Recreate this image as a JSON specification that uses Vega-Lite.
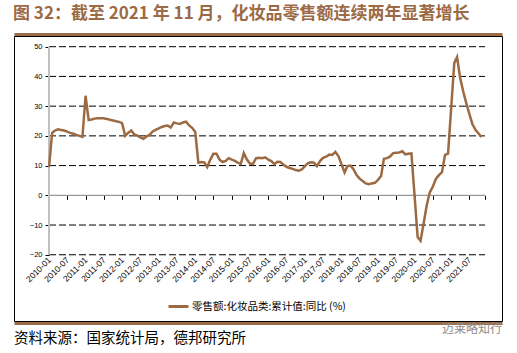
{
  "$schema": "https://vega.github.io/schema/vega-lite/v6.json",
  "width": 488,
  "height": 285,
  "autosize": {"type": "none"},
  "padding": {"left": 14, "top": 36, "right": 15, "bottom": 32},
  "background": "#ffffff",
  "config": {"view": {"stroke": "#000000", "strokeWidth": 1}},
  "resolve": {"axis": {"x": "independent", "y": "independent"}},
  "layer": [
    {
      "data": {"values": [{"v": -20}, {"v": -10}, {"v": 10}, {"v": 20}, {"v": 30}, {"v": 40}, {"v": 50}]},
      "mark": {"type": "rule", "color": "#000000", "strokeWidth": 1, "strokeDash": [7, 3]},
      "encoding": {
        "x": {"datum": {"year": 2010, "month": 1, "date": 1, "utc": true}, "type": "temporal",
              "axis": {"orient": "top", "offset": 2, "domain": true, "domainColor": "#9C6A45", "domainWidth": 3,
                       "ticks": false, "labels": false, "grid": false, "title": null},
              "scale": {"type": "utc", "domain": [{"year": 2009, "month": 1, "date": 16, "utc": true}, {"year": 2022, "month": 5, "date": 24, "utc": true}]}},
        "x2": {"datum": {"year": 2021, "month": 12, "date": 5, "utc": true}},
        "y": {"field": "v", "type": "quantitative", "axis": null,
              "scale": {"domain": [-42.29, 53.6], "nice": false, "zero": false}}
      }
    },
    {
      "data": {"values": [{}]},
      "mark": {"type": "rule", "color": "#7f7f7f", "strokeWidth": 1},
      "encoding": {
        "x": {"datum": {"year": 2010, "month": 1, "date": 1, "utc": true}, "type": "temporal",
              "axis": {"orient": "bottom", "offset": -125.7, "labels": false, "domain": false, "grid": false,
                       "ticks": true, "tickSize": 4, "tickColor": "#000000", "tickWidth": 1, "title": null,
                       "values": [
                         {"year": 2010, "month": 1, "date": 1, "utc": true}, {"year": 2010, "month": 7, "date": 1, "utc": true},
                         {"year": 2011, "month": 1, "date": 1, "utc": true}, {"year": 2011, "month": 7, "date": 1, "utc": true},
                         {"year": 2012, "month": 1, "date": 1, "utc": true}, {"year": 2012, "month": 7, "date": 1, "utc": true},
                         {"year": 2013, "month": 1, "date": 1, "utc": true}, {"year": 2013, "month": 7, "date": 1, "utc": true},
                         {"year": 2014, "month": 1, "date": 1, "utc": true}, {"year": 2014, "month": 7, "date": 1, "utc": true},
                         {"year": 2015, "month": 1, "date": 1, "utc": true}, {"year": 2015, "month": 7, "date": 1, "utc": true},
                         {"year": 2016, "month": 1, "date": 1, "utc": true}, {"year": 2016, "month": 7, "date": 1, "utc": true},
                         {"year": 2017, "month": 1, "date": 1, "utc": true}, {"year": 2017, "month": 7, "date": 1, "utc": true},
                         {"year": 2018, "month": 1, "date": 1, "utc": true}, {"year": 2018, "month": 7, "date": 1, "utc": true},
                         {"year": 2019, "month": 1, "date": 1, "utc": true}, {"year": 2019, "month": 7, "date": 1, "utc": true},
                         {"year": 2020, "month": 1, "date": 1, "utc": true}, {"year": 2020, "month": 7, "date": 1, "utc": true},
                         {"year": 2021, "month": 1, "date": 1, "utc": true}, {"year": 2021, "month": 7, "date": 1, "utc": true},
                         {"year": 2021, "month": 12, "date": 5, "utc": true}
                       ]}},
        "x2": {"datum": {"year": 2021, "month": 12, "date": 5, "utc": true}},
        "y": {"datum": 0, "axis": null}
      }
    },
    {
      "data": {"values": [{}]},
      "mark": {"type": "rule", "color": "#bfbfbf", "strokeWidth": 2},
      "encoding": {
        "x": {"datum": {"year": 2010, "month": 1, "date": 1, "utc": true}, "type": "temporal",
              "axis": {"orient": "bottom", "offset": 2, "domain": true, "domainColor": "#9C6A45", "domainWidth": 3,
                       "ticks": false, "labels": false, "grid": false, "title": null}},
        "y": {"datum": -20, "axis": null},
        "y2": {"datum": 50}
      }
    },
    {
      "data": {"values": [
        {"month": "2010-01-01", "yoy": 9.5}, {"month": "2010-02-01", "yoy": 21.0}, {"month": "2010-03-01", "yoy": 21.8},
        {"month": "2010-04-01", "yoy": 22.2}, {"month": "2010-05-01", "yoy": 22.0}, {"month": "2010-06-01", "yoy": 21.8},
        {"month": "2010-07-01", "yoy": 21.4}, {"month": "2010-08-01", "yoy": 21.0}, {"month": "2010-09-01", "yoy": 20.7},
        {"month": "2010-10-01", "yoy": 20.3}, {"month": "2010-11-01", "yoy": 20.0}, {"month": "2010-12-01", "yoy": 19.7},
        {"month": "2011-01-01", "yoy": 33.5}, {"month": "2011-02-01", "yoy": 25.3}, {"month": "2011-03-01", "yoy": 25.5},
        {"month": "2011-04-01", "yoy": 25.8}, {"month": "2011-05-01", "yoy": 25.9}, {"month": "2011-06-01", "yoy": 25.9},
        {"month": "2011-07-01", "yoy": 25.9}, {"month": "2011-08-01", "yoy": 25.7}, {"month": "2011-09-01", "yoy": 25.4},
        {"month": "2011-10-01", "yoy": 25.2}, {"month": "2011-11-01", "yoy": 24.9}, {"month": "2011-12-01", "yoy": 24.7},
        {"month": "2012-01-01", "yoy": 24.3}, {"month": "2012-02-01", "yoy": 20.0}, {"month": "2012-03-01", "yoy": 21.0},
        {"month": "2012-04-01", "yoy": 21.8}, {"month": "2012-05-01", "yoy": 20.5}, {"month": "2012-06-01", "yoy": 20.1},
        {"month": "2012-07-01", "yoy": 19.5}, {"month": "2012-08-01", "yoy": 19.0}, {"month": "2012-09-01", "yoy": 19.8},
        {"month": "2012-10-01", "yoy": 20.3}, {"month": "2012-11-01", "yoy": 21.5}, {"month": "2012-12-01", "yoy": 22.0},
        {"month": "2013-01-01", "yoy": 22.5}, {"month": "2013-02-01", "yoy": 23.0}, {"month": "2013-03-01", "yoy": 23.3},
        {"month": "2013-04-01", "yoy": 23.5}, {"month": "2013-05-01", "yoy": 22.8}, {"month": "2013-06-01", "yoy": 24.5},
        {"month": "2013-07-01", "yoy": 24.2}, {"month": "2013-08-01", "yoy": 24.0}, {"month": "2013-09-01", "yoy": 24.5},
        {"month": "2013-10-01", "yoy": 24.8}, {"month": "2013-11-01", "yoy": 23.5}, {"month": "2013-12-01", "yoy": 22.7},
        {"month": "2014-01-01", "yoy": 21.3}, {"month": "2014-02-01", "yoy": 11.0}, {"month": "2014-03-01", "yoy": 11.2},
        {"month": "2014-04-01", "yoy": 11.1}, {"month": "2014-05-01", "yoy": 9.5}, {"month": "2014-06-01", "yoy": 12.0},
        {"month": "2014-07-01", "yoy": 14.0}, {"month": "2014-08-01", "yoy": 14.0}, {"month": "2014-09-01", "yoy": 12.0},
        {"month": "2014-10-01", "yoy": 11.2}, {"month": "2014-11-01", "yoy": 11.6}, {"month": "2014-12-01", "yoy": 12.5},
        {"month": "2015-01-01", "yoy": 12.0}, {"month": "2015-02-01", "yoy": 11.6}, {"month": "2015-03-01", "yoy": 11.0},
        {"month": "2015-04-01", "yoy": 10.6}, {"month": "2015-05-01", "yoy": 14.2}, {"month": "2015-06-01", "yoy": 12.0},
        {"month": "2015-07-01", "yoy": 10.7}, {"month": "2015-08-01", "yoy": 10.6}, {"month": "2015-09-01", "yoy": 12.5},
        {"month": "2015-10-01", "yoy": 12.6}, {"month": "2015-11-01", "yoy": 12.5}, {"month": "2015-12-01", "yoy": 12.8},
        {"month": "2016-01-01", "yoy": 12.0}, {"month": "2016-02-01", "yoy": 11.5}, {"month": "2016-03-01", "yoy": 10.5},
        {"month": "2016-04-01", "yoy": 11.3}, {"month": "2016-05-01", "yoy": 11.2}, {"month": "2016-06-01", "yoy": 10.3},
        {"month": "2016-07-01", "yoy": 9.6}, {"month": "2016-08-01", "yoy": 9.2}, {"month": "2016-09-01", "yoy": 8.9},
        {"month": "2016-10-01", "yoy": 8.5}, {"month": "2016-11-01", "yoy": 8.3}, {"month": "2016-12-01", "yoy": 8.7},
        {"month": "2017-01-01", "yoy": 9.8}, {"month": "2017-02-01", "yoy": 10.8}, {"month": "2017-03-01", "yoy": 11.1},
        {"month": "2017-04-01", "yoy": 11.0}, {"month": "2017-05-01", "yoy": 9.8}, {"month": "2017-06-01", "yoy": 11.5},
        {"month": "2017-07-01", "yoy": 12.6}, {"month": "2017-08-01", "yoy": 13.0}, {"month": "2017-09-01", "yoy": 13.7},
        {"month": "2017-10-01", "yoy": 13.6}, {"month": "2017-11-01", "yoy": 14.6}, {"month": "2017-12-01", "yoy": 13.2},
        {"month": "2018-01-01", "yoy": 10.5}, {"month": "2018-02-01", "yoy": 7.7}, {"month": "2018-03-01", "yoy": 9.8},
        {"month": "2018-04-01", "yoy": 10.0}, {"month": "2018-05-01", "yoy": 8.8}, {"month": "2018-06-01", "yoy": 6.8},
        {"month": "2018-07-01", "yoy": 5.6}, {"month": "2018-08-01", "yoy": 4.8}, {"month": "2018-09-01", "yoy": 4.0},
        {"month": "2018-10-01", "yoy": 3.7}, {"month": "2018-11-01", "yoy": 4.0}, {"month": "2018-12-01", "yoy": 4.2},
        {"month": "2019-01-01", "yoy": 5.2}, {"month": "2019-02-01", "yoy": 6.5}, {"month": "2019-03-01", "yoy": 12.3},
        {"month": "2019-04-01", "yoy": 12.5}, {"month": "2019-05-01", "yoy": 13.0}, {"month": "2019-06-01", "yoy": 14.2},
        {"month": "2019-07-01", "yoy": 14.3}, {"month": "2019-08-01", "yoy": 14.4}, {"month": "2019-09-01", "yoy": 14.8},
        {"month": "2019-10-01", "yoy": 13.8}, {"month": "2019-11-01", "yoy": 14.0}, {"month": "2019-12-01", "yoy": 14.1},
        {"month": "2020-02-01", "yoy": -14.0}, {"month": "2020-03-01", "yoy": -15.3},
        {"month": "2020-04-01", "yoy": -9.5}, {"month": "2020-05-01", "yoy": -3.5}, {"month": "2020-06-01", "yoy": 1.0},
        {"month": "2020-07-01", "yoy": 2.8}, {"month": "2020-08-01", "yoy": 5.5}, {"month": "2020-09-01", "yoy": 6.8},
        {"month": "2020-10-01", "yoy": 7.8}, {"month": "2020-11-01", "yoy": 13.6}, {"month": "2020-12-01", "yoy": 14.0},
        {"month": "2021-02-01", "yoy": 44.5}, {"month": "2021-03-01", "yoy": 46.5},
        {"month": "2021-04-01", "yoy": 39.5}, {"month": "2021-05-01", "yoy": 35.0}, {"month": "2021-06-01", "yoy": 31.0},
        {"month": "2021-07-01", "yoy": 27.5}, {"month": "2021-08-01", "yoy": 24.0}, {"month": "2021-09-01", "yoy": 22.0},
        {"month": "2021-10-01", "yoy": 20.8}, {"month": "2021-11-01", "yoy": 19.6}
      ]},
      "mark": {"type": "line", "strokeWidth": 2.5},
      "encoding": {
        "x": {"field": "month", "type": "temporal",
              "axis": {"orient": "bottom", "offset": -66, "ticks": false, "domain": false, "grid": false, "title": null,
                       "labelExpr": "utcFormat(datum.value, '%Y-%m')", "labelAngle": -45, "labelAlign": "right",
                       "labelBaseline": "middle", "labelPadding": 3, "labelFont": "Liberation Sans", "labelFontSize": 8.5,
                       "labelColor": "#000000", "labelOverlap": false, "labelFlush": false, "labelBound": false,
                       "values": [
                         {"year": 2010, "month": 1, "date": 1, "utc": true}, {"year": 2010, "month": 7, "date": 1, "utc": true},
                         {"year": 2011, "month": 1, "date": 1, "utc": true}, {"year": 2011, "month": 7, "date": 1, "utc": true},
                         {"year": 2012, "month": 1, "date": 1, "utc": true}, {"year": 2012, "month": 7, "date": 1, "utc": true},
                         {"year": 2013, "month": 1, "date": 1, "utc": true}, {"year": 2013, "month": 7, "date": 1, "utc": true},
                         {"year": 2014, "month": 1, "date": 1, "utc": true}, {"year": 2014, "month": 7, "date": 1, "utc": true},
                         {"year": 2015, "month": 1, "date": 1, "utc": true}, {"year": 2015, "month": 7, "date": 1, "utc": true},
                         {"year": 2016, "month": 1, "date": 1, "utc": true}, {"year": 2016, "month": 7, "date": 1, "utc": true},
                         {"year": 2017, "month": 1, "date": 1, "utc": true}, {"year": 2017, "month": 7, "date": 1, "utc": true},
                         {"year": 2018, "month": 1, "date": 1, "utc": true}, {"year": 2018, "month": 7, "date": 1, "utc": true},
                         {"year": 2019, "month": 1, "date": 1, "utc": true}, {"year": 2019, "month": 7, "date": 1, "utc": true},
                         {"year": 2020, "month": 1, "date": 1, "utc": true}, {"year": 2020, "month": 7, "date": 1, "utc": true},
                         {"year": 2021, "month": 1, "date": 1, "utc": true}, {"year": 2021, "month": 7, "date": 1, "utc": true}
                       ]}},
        "y": {"field": "yoy", "type": "quantitative",
              "axis": {"orient": "left", "offset": -35, "domain": false, "grid": false, "title": null,
                       "values": [-20, -10, 0, 10, 20, 30, 40, 50], "tickSize": 4, "tickColor": "#000000",
                       "labelFont": "Liberation Sans", "labelFontSize": 7.5, "labelColor": "#000000", "labelPadding": 3}},
        "color": {"datum": "零售额:化妆品类:累计值:同比 (%)", "type": "nominal",
                  "scale": {"range": ["#9C6A42"]},
                  "legend": {"orient": "none", "legendX": 153, "legendY": 259, "title": null,
                             "symbolType": "stroke", "symbolSize": 400, "symbolStrokeWidth": 3,
                             "labelFont": "Noto Sans CJK SC", "labelFontSize": 10.5, "labelColor": "#000000", "labelOffset": 2}}
      }
    },
    {
      "data": {"values": [{}]},
      "mark": {"type": "text", "align": "left", "baseline": "middle", "font": "Noto Sans CJK SC", "fontSize": 17, "fontWeight": "bold", "color": "#9C6A45"},
      "encoding": {
        "x": {"datum": {"year": 2009, "month": 1, "date": 6, "utc": true}, "type": "temporal", "axis": null},
        "y": {"datum": 61.0, "axis": null},
        "text": {"value": "图 32：截至 2021 年 11 月，化妆品零售额连续两年显著增长"}
      }
    },
    {
      "data": {"values": [{}]},
      "mark": {"type": "text", "align": "left", "baseline": "middle", "font": "Noto Sans CJK SC", "fontSize": 14.5, "color": "#000000"},
      "encoding": {
        "x": {"datum": {"year": 2009, "month": 1, "date": 16, "utc": true}, "type": "temporal", "axis": null},
        "y": {"datum": -48.35, "axis": null},
        "text": {"value": "资料来源：国家统计局，德邦研究所"}
      }
    },
    {
      "data": {"values": [{}]},
      "mark": {"type": "text", "align": "left", "baseline": "middle", "font": "Noto Sans CJK SC", "fontSize": 12, "color": "#8c8c8c"},
      "encoding": {
        "x": {"datum": {"year": 2020, "month": 10, "date": 1, "utc": true}, "type": "temporal", "axis": null},
        "y": {"datum": -44.99, "axis": null},
        "text": {"value": "迈莱略知行"}
      }
    }
  ]
}
